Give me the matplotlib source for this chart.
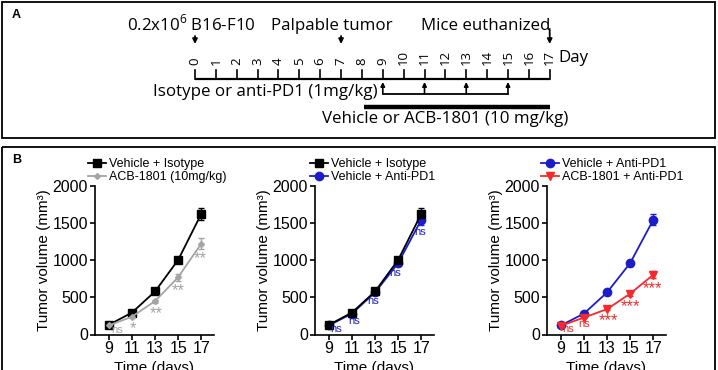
import numpy as np
import matplotlib
matplotlib.use("Agg")
import matplotlib.pyplot as plt
from matplotlib.patches import Rectangle

# ---- data ---------------------------------------------------------------
timeline_days = [0, 1, 2, 3, 4, 5, 6, 7, 8, 9, 10, 11, 12, 13, 14, 15, 16, 17]
event_labels = ["0.2x10$^6$ B16-F10", "Palpable tumor", "Mice euthanized"]
event_days = [0, 7, 17]
injection_days = [9, 11, 13, 15]
treatment_span = (8.1, 17.1)

days = [9, 11, 13, 15, 17]
veh_iso = [130, 295, 580, 1005, 1625]
veh_iso_err = [12, 20, 25, 40, 80]
acb = [122, 240, 450, 772, 1225]
acb_err = [10, 15, 20, 45, 70]
veh_pd1 = [122, 282, 567, 962, 1545]
veh_pd1_err = [10, 18, 30, 45, 75]
acb_pd1 = [118, 228, 342, 550, 805]
acb_pd1_err = [8, 12, 18, 30, 45]

sig_acb = ["ns", "*", "**", "**", "**"]
sig_pd1 = ["ns", "ns", "ns", "ns", "ns"]
sig_combo = ["ns", "ns", "***", "***", "***"]

W, H = 718, 370
BLACK, GRAY, BLUE, RED = "#000000", "#a4a4a4", "#1c1cc8", "#f42a2a"

plt.rcParams["mathtext.fontset"] = "custom"
plt.rcParams["mathtext.rm"] = "Open Sans"

fig = plt.figure(figsize=(W / 100, H / 100), dpi=100)


def fx(px):
    return px / W


def fy(px):
    return 1 - px / H


# ---- frames -------------------------------------------------------------
over = fig.add_axes([0, 0, 1, 1])
over.set_xlim(0, W)
over.set_ylim(H, 0)
over.axis("off")
over.add_patch(Rectangle((2, 2), 713, 136, fill=False, lw=1.3, ec="k"))
over.add_patch(Rectangle((2, 147), 713, 240, fill=False, lw=1.3, ec="k",
                         clip_on=False))
over.text(12, 15, "A", fontsize=9, fontweight="bold", family="Liberation Sans",
          va="center", ha="left")
over.text(12, 160, "B", fontsize=9, fontweight="bold", family="Liberation Sans",
          va="center", ha="left")

# ---- panel A: timeline --------------------------------------------------
tl = fig.add_axes([fx(195), 0, fx(549.7) - fx(195), 1])
tl.set_xlim(0, 17)
tl.set_ylim(H, 0)
tl.axis("off")
afont = dict(family="Open Sans", fontsize=12.2)

tl.plot([timeline_days[0], timeline_days[-1]], [78.5, 78.5], color="k",
        lw=1.6, clip_on=False, solid_capstyle="butt")
for d in timeline_days:
    tl.plot([d, d], [78.5, 69.5], color="k", lw=1.2, clip_on=False)
    tl.text(d, 65, str(d), rotation=90, ha="center", va="bottom",
            family="Open Sans", fontsize=9.5, clip_on=False)
tl.text(17.4, 61.5, "Day", ha="left", va="baseline", **afont)

event_text_x = [-0.17, 6.54, 13.95]
arrow_top = [36, 36, 29]
for lab, d, tx, top in zip(event_labels, event_days, event_text_x, arrow_top):
    tl.text(tx, 30, lab, ha="center", va="baseline", **afont)
    tl.annotate("", xy=(d, 44), xytext=(d, top),
                arrowprops=dict(arrowstyle="-|>", lw=1.3, color="k",
                                mutation_scale=7, shrinkA=0, shrinkB=0))

tl.text(8.75, 96.5, "Isotype or anti-PD1 (1mg/kg)", ha="right",
        va="baseline", **afont)
tl.plot([injection_days[0], injection_days[-1]], [93.5, 93.5], color="k",
        lw=1.3)
for d in injection_days:
    tl.annotate("", xy=(d, 82), xytext=(d, 93.5),
                arrowprops=dict(arrowstyle="-|>", lw=1.2, color="k",
                                mutation_scale=6, shrinkA=0, shrinkB=0))
tl.plot(treatment_span, [106.7, 106.7], color="k", lw=3.2,
        solid_capstyle="butt")
tl.text(12, 123, "Vehicle or ACB-1801 (10 mg/kg)", ha="center",
        va="baseline", **afont)

# ---- panel B: growth curves ---------------------------------------------
bfont = "Liberation Sans"
ax_left = [95, 315, 547]
ax_w, ax_top, ax_bot = 119, 186, 334.5

styles = {
    "veh_iso": dict(color=BLACK, marker="s", ms=6, label="Vehicle + Isotype"),
    "acb": dict(color=GRAY, marker="D", ms=3, label="ACB-1801 (10mg/kg)"),
    "veh_pd1": dict(color=BLUE, marker="o", ms=6, label="Vehicle + Anti-PD1"),
    "acb_pd1": dict(color=RED, marker="v", ms=5.5,
                    label="ACB-1801 + Anti-PD1"),
}
series = {
    "veh_iso": (veh_iso, veh_iso_err),
    "acb": (acb, acb_err),
    "veh_pd1": (veh_pd1, veh_pd1_err),
    "acb_pd1": (acb_pd1, acb_pd1_err),
}
panels = [
    (["veh_iso", "acb"], ["veh_iso", "acb"], "acb", sig_acb,
     [0.75, 0.1, 0.1, 0.0, -0.1], [-55, -105, -113, -122, -145], 88),
    (["veh_pd1", "veh_iso"], ["veh_iso", "veh_pd1"], "veh_pd1", sig_pd1,
     [0.6, 0.2, -0.2, -0.3, -0.1], [-46, -104, -112, -136, -170], 310),
    (["veh_pd1", "acb_pd1"], ["veh_pd1", "acb_pd1"], "acb_pd1", sig_combo,
     [0.6, 0.0, 0.1, 0.0, -0.1], [-42, -86, -89, -119, -129], 541),
]

for left, (draw, leg_order, sig_key, sigs, sdx, sdy, leg_x) in zip(ax_left, panels):
    ax = fig.add_axes([fx(left), fy(ax_bot), fx(ax_w), fy(ax_top) - fy(ax_bot)])
    handles = {}
    for key in draw:
        vals, err = series[key]
        st = styles[key]
        eb = ax.errorbar(days, vals, yerr=err, color=st["color"],
                         marker=st["marker"], ms=st["ms"], lw=1.3,
                         elinewidth=1.0, capsize=2.5, capthick=1.0,
                         label=st["label"], clip_on=False)
        handles[key] = eb
    col = styles[sig_key]["color"]
    vals = series[sig_key][0]
    for d, v, s, dx, dy in zip(days, vals, sigs, sdx, sdy):
        star = s.startswith("*")
        ax.text(d + dx, v + dy - (60 if star else 0), s, color=col,
                ha="center", va="center", family=bfont,
                fontsize=12 if star else 8, clip_on=False)

    ax.set_xlim(7.8, 18.1)
    ax.set_ylim(0, 2000)
    ax.set_xticks(days)
    ax.set_yticks([0, 500, 1000, 1500, 2000])
    for sp in ("top", "right"):
        ax.spines[sp].set_visible(False)
    for sp in ("left", "bottom"):
        ax.spines[sp].set_linewidth(1.2)
    ax.tick_params(length=3.5, width=1.2, labelsize=11.5, pad=1.5)
    for lab in ax.get_xticklabels() + ax.get_yticklabels():
        lab.set_family(bfont)
    ax.set_ylabel("Tumor volume (mm³)", family=bfont, fontsize=11,
                  labelpad=1)
    ax.set_xlabel("Time (days)", family=bfont, fontsize=11, labelpad=3)

    leg_handles = [handles[k][0] for k in leg_order]
    leg_labels = [styles[k]["label"] for k in leg_order]
    ax.legend(leg_handles, leg_labels, loc="lower left",
              bbox_to_anchor=(fx(leg_x), fy(183)),
              bbox_transform=fig.transFigure, frameon=False,
              prop=dict(family=bfont, size=9), handlelength=1.4,
              handletextpad=0.3, labelspacing=0.05, borderpad=0,
              borderaxespad=0)

fig.savefig("out.png", dpi=100)
